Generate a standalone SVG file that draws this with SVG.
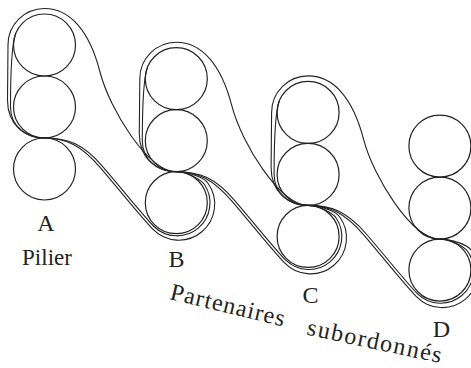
<svg xmlns="http://www.w3.org/2000/svg" width="471" height="368" viewBox="0 0 471 368">
<defs>
  <path id="outerLoop" d="M 0,93 C -19.5,93 -37,80 -37,55 L -36.5,0 A 36.5 36.5 0 0 1 0,-36.5 C 25.5,-36.5 45,-14 55.5,27 C 65,64 103.5,126.7 131.8,126.7"/>
  <path id="innerLoop" d="M 0,93 C -17.5,93 -34,82 -34,62 C -34,40 -33.2,-0.5 -28.7,-11.6"/>
  <path id="outerWrap" d="M -131.8,59.3 C -110,59.3 -95,67 -76,89 C -58.9,108.8 -34.1,139.9 -23.5,150.5 A 36 36 0 0 0 31.5,104.3 C 27.5,98.6 12,93 0,93"/>
  <path id="innerWrap" d="M -131.8,59.3 C -108,59.3 -93,65.5 -74,87.4 C -57,107 -32.9,137.2 -22.3,147.8 A 33 33 0 0 0 28,105.6 C 24.6,100.7 10,93 0,93"/>
</defs>

<g id="connectors" fill="none" stroke="#222" stroke-width="1.1">
  <use href="#outerLoop" transform="translate(44.5,45)"/>
  <use href="#innerLoop" transform="translate(44.5,45)"/>
  <use href="#outerLoop" transform="translate(176.3,78.7)"/>
  <use href="#innerLoop" transform="translate(176.3,78.7)"/>
  <use href="#outerLoop" transform="translate(308.1,112.4)"/>
  <use href="#innerLoop" transform="translate(308.1,112.4)"/>
  <use href="#outerWrap" transform="translate(176.3,78.7)"/>
  <use href="#innerWrap" transform="translate(176.3,78.7)"/>
  <use href="#outerWrap" transform="translate(308.1,112.4)"/>
  <use href="#innerWrap" transform="translate(308.1,112.4)"/>
  <use href="#outerWrap" transform="translate(439.9,146.1)"/>
  <use href="#innerWrap" transform="translate(439.9,146.1)"/>
</g>

<g id="A" transform="translate(44.5,45)" fill="none" stroke="#222" stroke-width="1.2">
  <circle cx="0" cy="0" r="31"/>
  <circle cx="0" cy="62" r="31"/>
  <circle cx="0" cy="124" r="31"/>
</g>
<g id="B" transform="translate(176.3,78.7)" fill="none" stroke="#222" stroke-width="1.2">
  <circle cx="0" cy="0" r="31"/>
  <circle cx="0" cy="62" r="31"/>
  <circle cx="0" cy="124" r="31"/>
</g>
<g id="C" transform="translate(308.1,112.4)" fill="none" stroke="#222" stroke-width="1.2">
  <circle cx="0" cy="0" r="31"/>
  <circle cx="0" cy="62" r="31"/>
  <circle cx="0" cy="124" r="31"/>
</g>
<g id="D" transform="translate(439.9,146.1)" fill="none" stroke="#222" stroke-width="1.2">
  <circle cx="0" cy="0" r="31"/>
  <circle cx="0" cy="62" r="31"/>
  <circle cx="0" cy="124" r="31"/>
</g>

<g id="labels" fill="#222" font-family="Liberation Serif, serif" font-size="24">
  <text x="46" y="231" text-anchor="middle">A</text>
  <text x="47" y="265" text-anchor="middle" font-size="23">Pilier</text>
  <text x="176.5" y="267" text-anchor="middle">B</text>
  <text x="310.5" y="303" text-anchor="middle">C</text>
  <text x="441.5" y="337" text-anchor="middle">D</text>
  <text transform="translate(169,299) rotate(13.5)" x="0" y="0" textLength="117" lengthAdjust="spacing">Partenaires</text>
  <text transform="translate(306,334.5) rotate(12)" x="0" y="0" textLength="137" lengthAdjust="spacing">subordonnés</text>
</g>
</svg>
